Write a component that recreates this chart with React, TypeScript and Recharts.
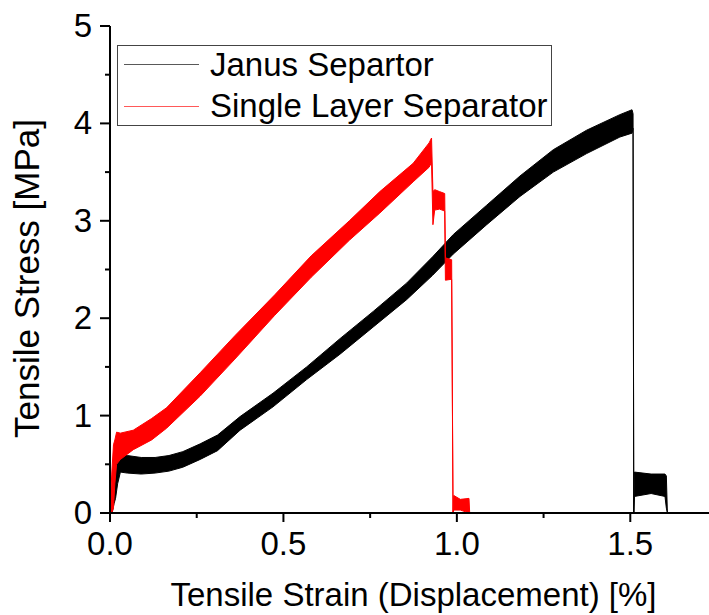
import { Area, ComposedChart, Legend, XAxis, YAxis } from 'recharts'

const FONT = '"Liberation Sans", Arial, Helvetica, sans-serif'

// Janus separator: strain [%] and the lower / upper edge of the noisy trace [MPa]
const janusStrain = [
  0, 0.006, 0.012, 0.016, 0.022, 0.03, 0.05, 0.09, 0.13, 0.17, 0.21, 0.26, 0.31, 0.375, 0.47, 0.567, 0.663,
  0.759, 0.855, 0.93, 0.99, 1.086, 1.182, 1.278, 1.374, 1.47, 1.505, 1.508, 1.51, 1.512, 1.56, 1.6, 1.604, 1.607,
]
const janusLow = [
  0, 0, 0.1, 0.15, 0.3, 0.42, 0.41, 0.4, 0.41, 0.43, 0.47, 0.55, 0.64, 0.85, 1.09, 1.37, 1.63, 1.91, 2.19, 2.44,
  2.66, 2.96, 3.25, 3.5, 3.69, 3.86, 3.9, 3.95, 0, 0.17, 0.2, 0.17, 0.05, 0,
]
const janusHigh = [
  0, 0.25, 0.5, 0.55, 0.6, 0.6, 0.59, 0.57, 0.57, 0.59, 0.63, 0.71, 0.8, 0.99, 1.23, 1.5, 1.79, 2.07, 2.36, 2.63,
  2.86, 3.16, 3.46, 3.73, 3.93, 4.09, 4.14, 4.1, 0, 0.42, 0.4, 0.4, 0.38, 0,
]

// single layer separator
const singleStrain = [
  0, 0.005, 0.01, 0.014, 0.019, 0.03, 0.067, 0.12, 0.163, 0.26, 0.36, 0.475, 0.58, 0.69, 0.778, 0.874, 0.92,
  0.927, 0.931, 0.936, 0.95, 0.965, 0.967, 0.985, 0.989, 0.991, 1.01, 1.035, 1.037,
]
const singleLow = [
  0, 0, 0.05, 0.3, 0.5, 0.55, 0.65, 0.75, 0.87, 1.2, 1.58, 2.03, 2.42, 2.8, 3.08, 3.4, 3.55, 3.6, 2.96, 3.11,
  3.12, 3.1, 2.39, 2.4, 0, 0.03, 0.03, 0, 0,
]
const singleHigh = [
  0, 0.4, 0.7, 0.75, 0.83, 0.82, 0.85, 0.97, 1.08, 1.44, 1.82, 2.24, 2.64, 3.0, 3.3, 3.59, 3.8, 3.85, 3.3, 3.32,
  3.3, 3.28, 2.62, 2.6, 0, 0.18, 0.14, 0.15, 0,
]

const xTicks = [0, 0.25, 0.5, 0.75, 1, 1.25, 1.5, 1.75]
const yTicks = [0, 0.5, 1, 1.5, 2, 2.5, 3, 3.5, 4, 4.5, 5]

type Row = { x: number; janus?: [number, number]; single?: [number, number] }

function buildRows(): Row[] {
  const map = new Map<number, Row>()
  janusStrain.forEach((x, i) => {
    const r = map.get(x) ?? { x }
    r.janus = [janusLow[i], janusHigh[i]]
    map.set(x, r)
  })
  singleStrain.forEach((x, i) => {
    const r = map.get(x) ?? { x }
    r.single = [singleLow[i], singleHigh[i]]
    map.set(x, r)
  })
  return [...map.values()].sort((a, b) => a.x - b.x)
}

const rows = buildRows()

const isHalf = (v: number) => Math.abs(v * 2 - Math.round(v * 2)) < 1e-6

function BottomTick({ x, y, payload }: any) {
  const major = isHalf(payload.value)
  return (
    <g>
      <line x1={x} x2={x} y1={y} y2={y + (major ? 9 : 5)} stroke="#000" strokeWidth={2} />
      {major && (
        <text x={x} y={y + 42} textAnchor="middle" fontSize={33} fontFamily={FONT} fill="#000">
          {payload.value.toFixed(1)}
        </text>
      )}
    </g>
  )
}

function TopTick({ x, y, payload }: any) {
  const major = isHalf(payload.value)
  return <line x1={x} x2={x} y1={y} y2={y + (major ? 10 : 5)} stroke="#000" strokeWidth={2} />
}

function LeftTick({ x, y, payload }: any) {
  const major = Number.isInteger(payload.value)
  return (
    <g>
      <line x1={x} x2={x - (major ? 10 : 5)} y1={y} y2={y} stroke="#000" strokeWidth={2} />
      {major && (
        <text x={x - 18} y={y + 11} textAnchor="end" fontSize={33} fontFamily={FONT} fill="#000">
          {payload.value}
        </text>
      )}
    </g>
  )
}

function RightTick({ x, y, payload }: any) {
  const major = Number.isInteger(payload.value)
  return <line x1={x} x2={x - (major ? 10 : 5)} y1={y} y2={y} stroke="#000" strokeWidth={2} />
}

function XTitle({ viewBox }: any) {
  return (
    <text x={viewBox.x + viewBox.width / 2} y={viewBox.y + 93} textAnchor="middle" fontSize={33} fontFamily={FONT} fill="#000">
      Tensile Strain (Displacement) [%]
    </text>
  )
}

function YTitle({ viewBox }: any) {
  const cx = viewBox.x - 11
  const cy = viewBox.y + viewBox.height / 2 + 9
  return (
    <text x={cx} y={cy} transform={`rotate(-90, ${cx}, ${cy})`} textAnchor="middle" fontSize={35} fontFamily={FONT} fill="#000">
      Tensile Stress [MPa]
    </text>
  )
}

function LegendBox({ payload }: any) {
  return (
    <svg width={436} height={82} style={{ display: 'block' }}>
      <rect x={0.5} y={0.5} width={434} height={80} fill="#fff" stroke="#444" />
      {(payload ?? []).map((p: any, i: number) => (
        <g key={p.value}>
          <line x1={7} x2={82} y1={19.5 + i * 42} y2={19.5 + i * 42} stroke={p.color} strokeOpacity={0.65} strokeWidth={1} />
          <text x={93} y={31 + i * 41} fontSize={33} fontFamily={FONT} fill="#000">
            {p.value}
          </text>
        </g>
      ))}
    </svg>
  )
}

export default function App() {
  return (
    <div style={{ position: 'absolute', left: 0, top: 0, width: 709, height: 615, overflow: 'hidden', background: '#fff' }}>
      <ComposedChart width={740} height={615} data={rows} margin={{ top: 26, right: 23, bottom: 72, left: 50 }}>
        <XAxis
          xAxisId="bottom"
          dataKey="x"
          type="number"
          domain={[0, 1.75]}
          ticks={xTicks}
          interval={0}
          height={30}
          tickSize={0}
          tickMargin={0}
          tickLine={false}
          axisLine={{ stroke: '#000', strokeWidth: 2 }}
          tick={<BottomTick />}
          label={<XTitle />}
        />
        <XAxis
          xAxisId="top"
          orientation="top"
          dataKey="x"
          type="number"
          domain={[0, 1.75]}
          ticks={xTicks}
          interval={0}
          height={0}
          tickSize={0}
          tickMargin={0}
          tickLine={false}
          axisLine={{ stroke: '#000', strokeWidth: 2 }}
          tick={<TopTick />}
        />
        <YAxis
          yAxisId="left"
          type="number"
          domain={[0, 5]}
          ticks={yTicks}
          interval={0}
          width={60}
          tickSize={0}
          tickMargin={0}
          tickLine={false}
          axisLine={{ stroke: '#000', strokeWidth: 2 }}
          tick={<LeftTick />}
          label={<YTitle />}
        />
        <YAxis
          yAxisId="right"
          orientation="right"
          type="number"
          domain={[0, 5]}
          ticks={yTicks}
          interval={0}
          width={0}
          tickSize={0}
          tickMargin={0}
          tickLine={false}
          axisLine={{ stroke: '#000', strokeWidth: 2 }}
          tick={<RightTick />}
        />
        <Legend
          layout="vertical"
          align="center"
          verticalAlign="middle"
          wrapperStyle={{ left: 117, top: 45 }}
          content={<LegendBox />}
        />
        <Area
          xAxisId="bottom"
          yAxisId="left"
          name="Janus Separtor"
          dataKey="janus"
          type="linear"
          stroke="#000"
          strokeWidth={1}
          fill="#000"
          fillOpacity={1}
          connectNulls
          dot={false}
          activeDot={false}
          legendType="line"
          isAnimationActive={false}
        />
        <Area
          xAxisId="bottom"
          yAxisId="left"
          name="Single Layer Separator"
          dataKey="single"
          type="linear"
          stroke="#ff0000"
          strokeWidth={1}
          fill="#ff0000"
          fillOpacity={1}
          connectNulls
          dot={false}
          activeDot={false}
          legendType="line"
          isAnimationActive={false}
        />
      </ComposedChart>
    </div>
  )
}
